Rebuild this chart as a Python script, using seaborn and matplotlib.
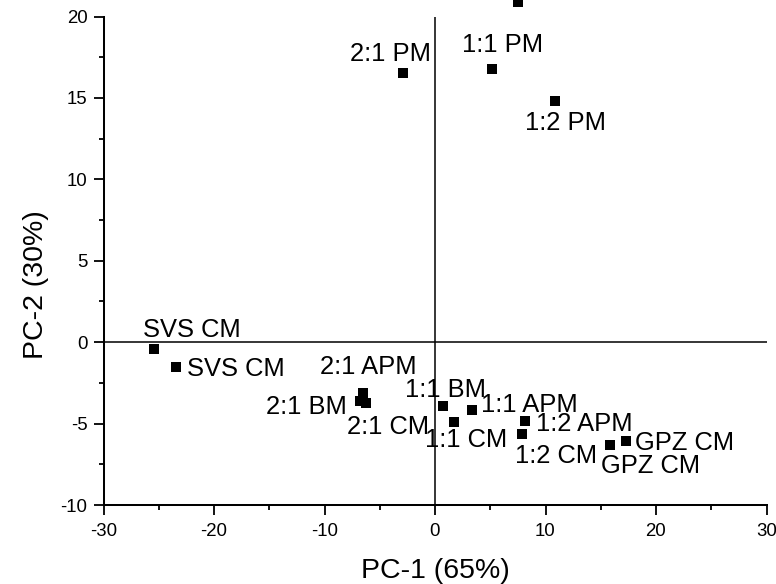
import matplotlib
matplotlib.use("Agg")
import matplotlib.pyplot as plt
from matplotlib.ticker import MultipleLocator
import seaborn as sns
import pandas as pd

# PCA scores of the samples
samples = ["SVS CM", "SVS CM", "2:1 APM", "2:1 BM", "2:1 CM",
           "1:1 BM", "1:1 CM", "1:1 APM", "1:2 APM", "1:2 CM",
           "GPZ CM", "GPZ CM", "2:1 PM", "1:1 PM", "1:2 PM", ""]
pc1 = [-25.4, -23.4, -6.5, -6.8, -6.2,
       0.75, 1.75, 3.35, 8.15, 7.9,
       15.8, 17.25, -2.9, 5.2, 10.9, 7.55]
pc2 = [-0.4, -1.55, -3.1, -3.63, -3.73,
       -3.94, -4.88, -4.18, -4.86, -5.67,
       -6.33, -6.1, 16.55, 16.8, 14.8, 20.9]

x_title = "PC-1 (65%)"
y_title = "PC-2 (30%)"
x_ticks = [-30, -20, -10, 0, 10, 20, 30]
y_ticks = [-10, -5, 0, 5, 10, 15, 20]

# label offsets from each point, in pixels (right, up)
label_offsets = [(-11, 12), (11, -8.3), (-43.3, 18.3), (-94.3, -12.6), (-19, -31),
                 (-38.7, 9.4), (-29.7, -25), (9.2, -2), (11, -10), (-7.7, -28.3),
                 (-8.3, -28), (9, -8.3), (-53.3, 12), (-30.6, 17), (-30.7, -29), (0, 0)]

sns.set_style("ticks")
plt.rcParams["font.family"] = ["Liberation Sans", "DejaVu Sans"]

DPI = 100
fig = plt.figure(figsize=(7.76, 5.84), dpi=DPI)
ax = fig.add_axes([103.5 / 776, (584 - 505) / 584, 663 / 776, 488.5 / 584])

df = pd.DataFrame({"pc1": pc1, "pc2": pc2, "sample": samples})

ax.axhline(0, color="black", lw=1.1, zorder=1)
ax.axvline(0, color="black", lw=1.1, zorder=1)

sns.scatterplot(data=df, x="pc1", y="pc2", marker="s", color="black",
                s=57, linewidth=0, ax=ax, clip_on=False, zorder=3, legend=False)

px = 72.0 / DPI
for name, xv, yv, (dx, dy) in zip(samples, pc1, pc2, label_offsets):
    if not name:
        continue
    ax.annotate(name, (xv, yv), xytext=(dx * px, dy * px), textcoords="offset points",
                ha="left", va="baseline", fontsize=18.4, color="black",
                annotation_clip=False)

ax.set_xlim(-30, 30)
ax.set_ylim(-10, 20)
ax.set_xticks(x_ticks)
ax.set_yticks(y_ticks)
ax.set_xticklabels([str(t) for t in x_ticks])
ax.set_yticklabels([str(t) for t in y_ticks])
ax.xaxis.set_minor_locator(MultipleLocator(5))
ax.yaxis.set_minor_locator(MultipleLocator(2.5))

for side in ["top", "right"]:
    ax.spines[side].set_visible(False)
for side in ["left", "bottom"]:
    ax.spines[side].set_linewidth(1.45)
    ax.spines[side].set_color("black")

ax.tick_params(axis="both", which="major", direction="out", length=7.2, width=1.3,
               labelsize=13.4, colors="black")
ax.tick_params(axis="both", which="minor", direction="out", length=3.6, width=1.3,
               colors="black")
ax.tick_params(axis="x", which="major", pad=6)
ax.tick_params(axis="y", which="major", pad=4.3)

ax.set_xlabel(x_title, fontsize=20.5, color="black")
ax.set_ylabel(y_title, fontsize=20.5, color="black")
ax.xaxis.set_label_coords(0.5, -0.108)
ax.yaxis.set_label_coords(-0.0816, 0.4504)

ax.set_facecolor("white")
fig.patch.set_facecolor("white")
fig.savefig("out.png", dpi=DPI, facecolor="white")
